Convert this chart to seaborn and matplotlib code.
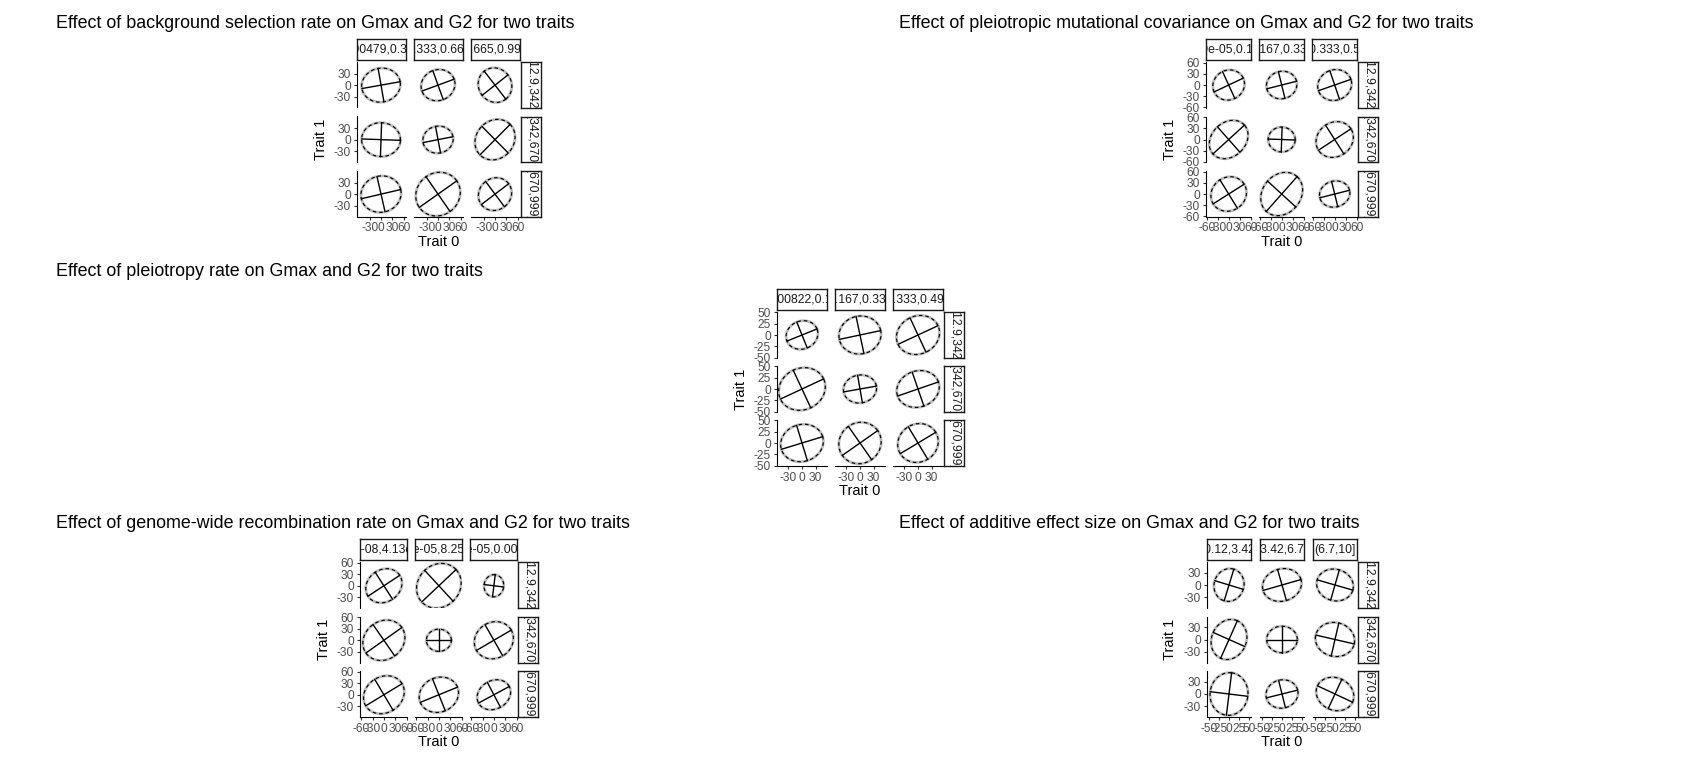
import numpy as np
import pandas as pd
import matplotlib
matplotlib.use("Agg")
import matplotlib.pyplot as plt
import seaborn as sns

sns.set_theme(style="white")
plt.rcParams['font.family'] = ['Liberation Sans', 'DejaVu Sans']
plt.rcParams['axes.unicode_minus'] = False

W, H = 1701, 766

# ---------------- data ----------------
titles = [
    "Effect of background selection rate on Gmax and G2 for two traits",
    "Effect of pleiotropic mutational covariance on Gmax and G2 for two traits",
    "Effect of pleiotropy rate on Gmax and G2 for two traits",
    "Effect of genome-wide recombination rate on Gmax and G2 for two traits",
    "Effect of additive effect size on Gmax and G2 for two traits",
]
row_labels = ["(12.9,342]", "(342,670]", "(670,999]"]
col_labels_bgs = ["(0.00479,0.333]", "(0.333,0.665]", "(0.665,0.999]"]
col_labels_pleio_cov = ["(1.9e-05,0.167]", "(0.167,0.333]", "(0.333,0.5]"]
col_labels_pleio_rate = ["(0.000822,0.167]", "(0.167,0.333]", "(0.333,0.499]"]
col_labels_recomb = ["(1.2e-08,4.13e-05]", "(4.13e-05,8.25e-05]", "(8.25e-05,0.000124]"]
col_labels_additive = ["(0.12,3.42]", "(3.42,6.7]", "(6.7,10]"]

# half-lengths of Gmax and G2 axes, and Gmax angle (degrees); rows x cols
gmax_bgs = [[51, 45, 46], [51, 40, 56], [53, 60, 45]]
g2_bgs = [[44, 40, 43], [44, 35, 49], [47, 55, 41]]
angle_bgs = [[10, 20, -52], [-2, 11, 45], [13, 35, 37]]

gmax_pleio_cov = [[44, 42, 47], [58, 37, 53], [50, 63, 42]]
g2_pleio_cov = [[40, 37, 41], [46, 33.5, 46], [45, 52, 35]]
angle_pleio_cov = [[25, 14, 19], [42, -2, 33], [32, 48, 14]]

gmax_pleio_rate = [[36, 47, 49], [53, 37, 48], [48, 48, 46]]
g2_pleio_rate = [[31, 42, 42], [46, 31, 40], [41, 45, 42]]
angle_pleio_rate = [[22, 12, 25], [25, 10, 19], [17, 35, 31]]

gmax_recomb = [[50, 62, 29], [58, 33, 53], [56, 53, 46]]
g2_recomb = [[42, 55, 26], [50, 29, 47], [47, 45, 37]]
angle_recomb = [[33, 43, 83], [35, 0, 30], [31, 22, 28]]

gmax_additive = [[41, 49, 46], [51, 38, 49], [53, 40, 48]]
g2_additive = [[37, 40, 39], [43, 33, 42], [47, 35, 40]]
angle_additive = [[73, 16, -16], [66, 0, -13], [83, 14, -25]]

# axis scales
xlims = [(-63, 65.5), (-62, 61), (-55.5, 55.5), (-63, 61), (-54.5, 54.5)]
ylims = [(-58, 60), (-60.5, 62), (-51, 51), (-58, 62), (-57, 57)]
xticks = [[-30, 0, 30, 60], [-60, -30, 0, 30, 60], [-30, 0, 30],
          [-60, -30, 0, 30, 60], [-50, -25, 0, 25, 50]]
yticks = [[-30, 0, 30], [-60, -30, 0, 30, 60], [-50, -25, 0, 25, 50],
          [-30, 0, 30, 60], [-30, 0, 30]]

# ---------------- layout (pixels) ----------------
panels = [
    dict(col_x=[357, 414, 471], col_w=49, row_y=[62, 116.5, 171], row_h=45.5, title_xy=(56, 23.5)),
    dict(col_x=[1206, 1259, 1312], col_w=45, row_y=[62, 116.5, 171], row_h=45.5, title_xy=(899, 23.5)),
    dict(col_x=[777, 835, 893], col_w=50, row_y=[312, 366, 420], row_h=46, title_xy=(56, 272)),
    dict(col_x=[360, 415, 470], col_w=47, row_y=[562, 616.5, 671], row_h=46, title_xy=(56, 523.5)),
    dict(col_x=[1207, 1260, 1313], col_w=44, row_y=[562, 616.5, 671], row_h=46, title_xy=(899, 523.5)),
]
col_labels = [col_labels_bgs, col_labels_pleio_cov, col_labels_pleio_rate,
              col_labels_recomb, col_labels_additive]
gmax_all = [gmax_bgs, gmax_pleio_cov, gmax_pleio_rate, gmax_recomb, gmax_additive]
g2_all = [g2_bgs, g2_pleio_cov, g2_pleio_rate, g2_recomb, g2_additive]
angle_all = [angle_bgs, angle_pleio_cov, angle_pleio_rate, angle_recomb, angle_additive]

fig = plt.figure(figsize=(W / 100, H / 100), dpi=100)
fig.patch.set_facecolor("white")


def px_axes(x, y, w, h):
    return fig.add_axes([x / W, 1 - (y + h) / H, w / W, h / H])


def ellipse_frames(a, b, ang):
    th = np.deg2rad(ang)
    t = np.linspace(0, 2 * np.pi, 181)
    ex = a * np.cos(t) * np.cos(th) - b * np.sin(t) * np.sin(th)
    ey = a * np.cos(t) * np.sin(th) + b * np.sin(t) * np.cos(th)
    ell = pd.DataFrame({"x": ex, "y": ey})
    s = np.array([-1.0, 1.0])
    axes_df = pd.DataFrame({
        "x": np.concatenate([s * a * np.cos(th), -s * b * np.sin(th)]),
        "y": np.concatenate([s * a * np.sin(th), s * b * np.cos(th)]),
        "seg": ["Gmax", "Gmax", "G2", "G2"],
    })
    return ell, axes_df


TICK_C = "#333333"
LAB_C = "#4D4D4D"
TICK_FS = 8.6
STRIP_FS = 8.7

for p, lay in enumerate(panels):
    cx, cw, ry, rh = lay["col_x"], lay["col_w"], lay["row_y"], lay["row_h"]
    for i in range(3):
        for j in range(3):
            ax = px_axes(cx[j], ry[i], cw, rh)
            ax.set_facecolor("white")
            ell, axes_df = ellipse_frames(gmax_all[p][i][j], g2_all[p][i][j], angle_all[p][i][j])
            sns.lineplot(data=ell, x="x", y="y", sort=False, estimator=None,
                         color="#BDBDBD", lw=2.0, ax=ax)
            sns.lineplot(data=ell, x="x", y="y", sort=False, estimator=None,
                         color="black", lw=0.85, linestyle=(0, (3.0, 2.5)), ax=ax)
            sns.lineplot(data=axes_df, x="x", y="y", units="seg", sort=False,
                         estimator=None, color="black", lw=1.0, ax=ax)
            ax.set_xlim(*xlims[p])
            ax.set_ylim(*ylims[p])
            ax.set_xlabel("")
            ax.set_ylabel("")
            for sp in ax.spines.values():
                sp.set_visible(False)
            ax.set_xticks(xticks[p])
            ax.set_yticks(yticks[p])
            ax.tick_params(length=2.5, width=0.8, color=TICK_C, labelsize=TICK_FS,
                           labelcolor=LAB_C, pad=1.8)
            if j == 0:
                ax.spines["left"].set_visible(True)
                ax.spines["left"].set_color("black")
                ax.spines["left"].set_linewidth(0.8)
                ax.tick_params(axis="y", left=True)
            else:
                ax.tick_params(axis="y", left=False, labelleft=False)
            if i == 2:
                ax.spines["bottom"].set_visible(True)
                ax.spines["bottom"].set_color("black")
                ax.spines["bottom"].set_linewidth(0.8)
                ax.tick_params(axis="x", bottom=True)
            else:
                ax.tick_params(axis="x", bottom=False, labelbottom=False)
            ax.grid(False)

    # top strips
    for j in range(3):
        sax = px_axes(cx[j], ry[0] - 23, cw, 21)
        sax.set_xticks([]); sax.set_yticks([])
        sax.set_facecolor("white")
        for sp in sax.spines.values():
            sp.set_color("#1A1A1A"); sp.set_linewidth(1.0)
        t = sax.text(0.5, 0.5, col_labels[p][j], ha="center", va="center",
                     fontsize=STRIP_FS, color="#1A1A1A", transform=sax.transAxes)
        t.set_clip_on(True)
    # right strips
    rx = cx[2] + cw + 1
    for i in range(3):
        sax = px_axes(rx, ry[i], 20, rh)
        sax.set_xticks([]); sax.set_yticks([])
        sax.set_facecolor("white")
        for sp in sax.spines.values():
            sp.set_color("#1A1A1A"); sp.set_linewidth(1.0)
        t = sax.text(0.5, 0.5, row_labels[i], ha="center", va="center", rotation=-90,
                     fontsize=STRIP_FS, color="#1A1A1A", transform=sax.transAxes)
        t.set_clip_on(True)

    # axis titles
    gx = (cx[0] + cx[2] + cw) / 2
    gbot = ry[2] + rh
    fig.text(gx / W, 1 - (gbot + 25) / H, "Trait 0", ha="center", va="center",
             fontsize=10.5, color="black")
    gy = (ry[0] + ry[2] + rh) / 2
    fig.text((cx[0] - 36.5) / W, 1 - gy / H, "Trait 1", ha="center", va="center",
             rotation=90, fontsize=10.5, color="black")
    # panel title
    tx, ty = lay["title_xy"]
    fig.text(tx / W, 1 - ty / H, titles[p], ha="left", va="center",
             fontsize=12.9, color="black")

fig.savefig("out.png", dpi=100, facecolor="white")
